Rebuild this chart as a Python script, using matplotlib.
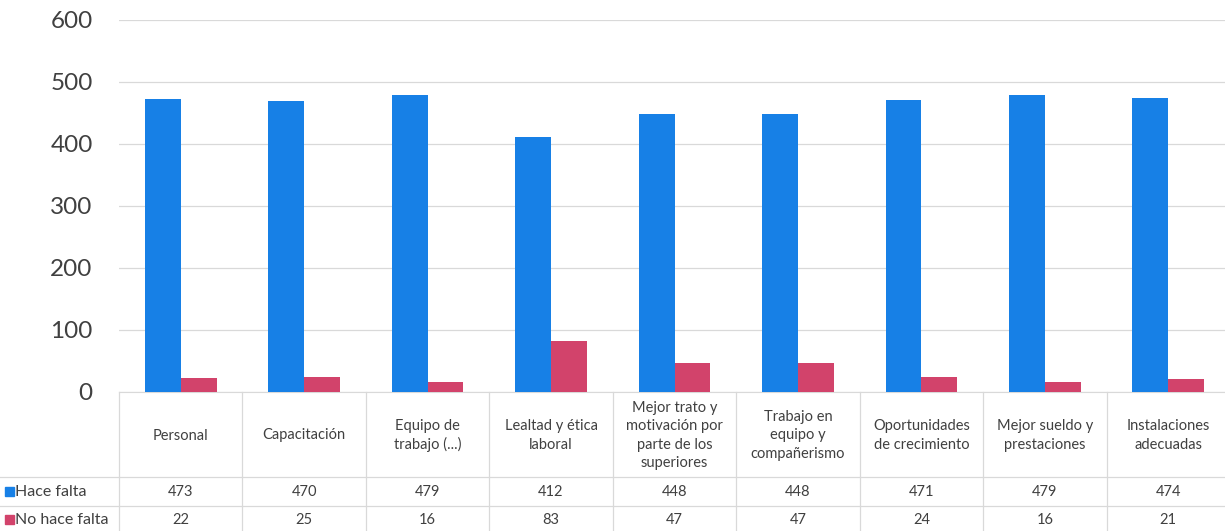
import matplotlib
matplotlib.use("Agg")
import matplotlib.pyplot as plt
import numpy as np

categories = ["Personal", "Capacitación", "Equipo de\ntrabajo (...)", "Lealtad y ética\nlaboral",
              "Mejor trato y\nmotivación por\nparte de los\nsuperiores", "Trabajo en\nequipo y\ncompañerismo",
              "Oportunidades\nde crecimiento", "Mejor sueldo y\nprestaciones", "Instalaciones\nadecuadas"]
hace_falta = [473, 470, 479, 412, 448, 448, 471, 479, 474]
no_hace_falta = [22, 25, 16, 83, 47, 47, 24, 16, 21]
series_names = ["Hace falta", "No hace falta"]
yticks = [0, 100, 200, 300, 400, 500, 600]

blue = "#1780e6"
red = "#d2436b"
grid_c = "#d9d9d9"
text_c = "#404040"

plt.rcParams['font.family'] = ['Lato', 'DejaVu Sans']

W, H = 1225, 531
fig = plt.figure(figsize=(W / 100, H / 100), dpi=100)

left_px, right_px = 119, 1230
top_px, zero_px = 20, 392
ax = fig.add_axes([left_px / W, (H - zero_px) / H, (right_px - left_px) / W, (zero_px - top_px) / H])

n = len(categories)
x = np.arange(n)
bw = 0.29
ax.bar(x - bw / 2, hace_falta, bw, color=blue, zorder=3)
ax.bar(x + bw / 2, no_hace_falta, bw, color=red, zorder=3)
ax.set_xlim(-0.5, n - 0.5)
ax.set_ylim(0, 600)
ax.set_yticks(yticks)
ax.set_yticklabels([str(v) for v in yticks], fontsize=17.5, color=text_c)
ax.tick_params(axis='y', length=0, pad=19)
ax.set_xticks([])
ax.grid(axis='y', color=grid_c, lw=0.9, zorder=0)
for s in ['top', 'right', 'left']:
    ax.spines[s].set_visible(False)
ax.spines['bottom'].set_color(grid_c)

# data table below
tab = fig.add_axes([left_px / W, 0, (right_px - left_px) / W, (H - zero_px) / H])
tab.set_xlim(-0.5, n - 0.5)
tab.set_ylim(H - zero_px, 0)  # pixels from top of table area
tab.axis('off')
px = (n) / (right_px - left_px)  # data units per pixel
x0 = -0.5 - left_px * px

hdr_bot = 477 - zero_px
row1_bot = 506 - zero_px
row2_bot = 535 - zero_px

lkw = dict(color=grid_c, lw=0.9, clip_on=False)
for i in range(n + 1):
    tab.plot([i - 0.5, i - 0.5], [0, row2_bot], **lkw)
tab.plot([x0, n - 0.5], [hdr_bot, hdr_bot], **lkw)
tab.plot([x0, n - 0.5], [row1_bot, row1_bot], **lkw)
tab.plot([x0, n - 0.5], [row2_bot, row2_bot], **lkw)

fs = 10.5
for i, c in enumerate(categories):
    tab.text(i, hdr_bot / 2 + 1, c, ha='center', va='center', fontsize=fs, color=text_c,
             linespacing=1.4, clip_on=False)
    tab.text(i, (hdr_bot + row1_bot) / 2, str(hace_falta[i]), ha='center', va='center',
             fontsize=fs, color=text_c, clip_on=False)
    tab.text(i, (row1_bot + row2_bot) / 2 - 1, str(no_hace_falta[i]), ha='center', va='center',
             fontsize=fs, color=text_c, clip_on=False)

for k, (name, col) in enumerate(zip(series_names, [blue, red])):
    yc = (hdr_bot + row1_bot) / 2 if k == 0 else (row1_bot + row2_bot) / 2 - 1
    tab.add_patch(plt.Rectangle((x0 + 5 * px, yc - 4.5), 9 * px, 9, color=col, clip_on=False))
    tab.text(x0 + 15 * px, yc, name, ha='left', va='center', fontsize=11.5, color=text_c, clip_on=False)

fig.savefig("out.png", dpi=100)
